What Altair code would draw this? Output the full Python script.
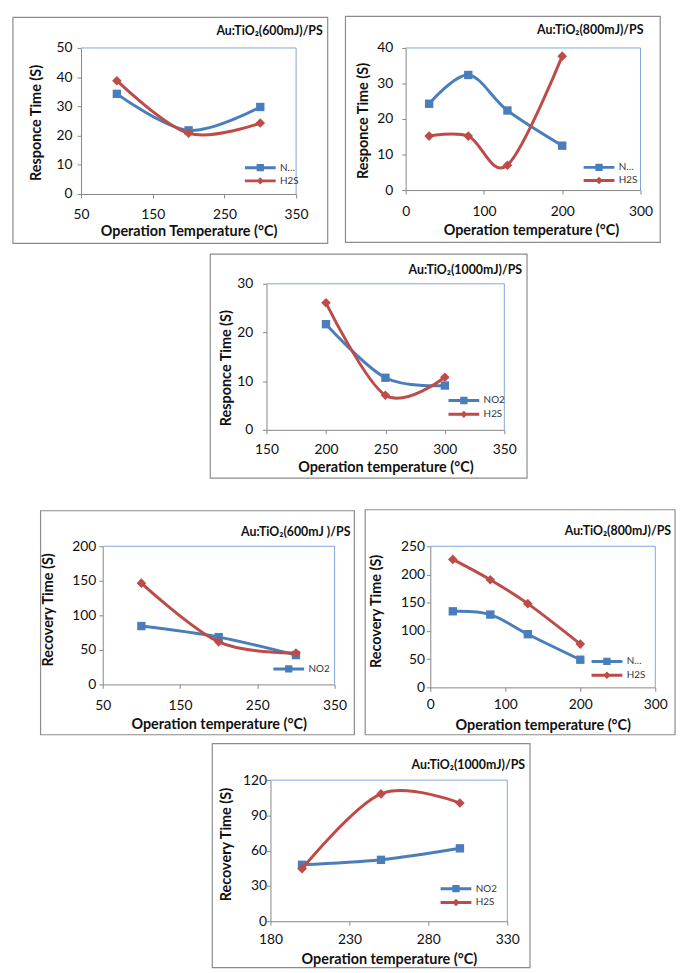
import altair as alt
import pandas as pd

# ---------------- data ----------------
series_names = ["NO2", "H2S"]
series_colors = ["#4A7EBB", "#BE4B48"]
series_shapes = ["square", "diamond"]
series_sizes = [72, 95]

temps_600 = [100, 200, 300]
temps_800 = [30, 80, 130, 200]
temps_1000 = [200, 250, 300]

resp_600_no2 = [34.3, 21.8, 29.8]
resp_600_h2s = [38.8, 20.8, 24.3]
resp_800_no2 = [24.3, 32.4, 22.4, 12.5]
resp_800_h2s = [15.2, 15.2, 7.0, 37.7]
resp_1000_no2 = [21.7, 10.7, 9.1]
resp_1000_h2s = [26.1, 7.1, 10.8]

rec_600_no2 = [84.5, 68.5, 42.5]
rec_600_h2s = [146.6, 61.6, 45.5]
rec_800_no2 = [134.8, 129.0, 94.2, 49.0]
rec_800_h2s = [226.7, 190.6, 148.3, 76.7]
rec_1000_no2 = [48.0, 52.2, 62.0]
rec_1000_h2s = [44.6, 108.3, 100.5]

# legend symbols: line with marker (custom paths)
legend_paths = {
    "NO2": "M-2.6,-0.25H2.6V0.25H-2.6Z M-0.62,-0.62H0.62V0.62H-0.62Z",
    "H2S": "M-2.6,-0.25H2.6V0.25H-2.6Z M0,-0.62L0.62,0L0,0.62L-0.62,0Z",
}
color_of = dict(zip(series_names, series_colors))

BOX = "#8C8C8C"
PLOT_BORDER = "#7FA6D8"
ONE = pd.DataFrame({"k": [0]})


def make_panel(temps, no2, h2s, p):
    n = len(temps)
    df = pd.DataFrame({
        "temp": temps * 2,
        "value": no2 + h2s,
        "gas": ["NO2"] * n + ["H2S"] * n,
    })
    W, H = p["W"], p["H"]
    X = alt.X("temp:Q",
              scale=alt.Scale(domain=p["xdom"], nice=False, zero=False),
              axis=alt.Axis(values=p["xticks"], title=p["xtitle"], labelFlush=False,
                            titleX=W / 2 + p.get("xtdx", 0), titleY=p["xty"],
                            titleBaseline="middle", titleAlign="center",
                            labelPadding=p.get("xlp", 10)))
    Y = alt.Y("value:Q",
              scale=alt.Scale(domain=p["ydom"], nice=False, zero=False),
              axis=alt.Axis(values=p["yticks"], title=p["ytitle"], labelFlush=False,
                            titleX=p["ytx"], titleY=H / 2 + p["ytdy"], titleAngle=270,
                            titleBaseline="middle", titleAlign="center",
                            labelPadding=p["ylp"]))
    layers = []
    # outer box
    layers.append(alt.Chart(ONE).mark_rect(fillOpacity=0, stroke=BOX, strokeWidth=1.2).encode(
        x=alt.value(-p["L"]), x2=alt.value(W + p["R"]),
        y=alt.value(-p["T"]), y2=alt.value(H + p["B"])))
    # plot-area border (top and right)
    layers.append(alt.Chart(ONE).mark_rule(color=PLOT_BORDER, strokeWidth=1).encode(
        x=alt.value(0), x2=alt.value(W), y=alt.value(0)))
    layers.append(alt.Chart(ONE).mark_rule(color=PLOT_BORDER, strokeWidth=1).encode(
        x=alt.value(W), y=alt.value(0), y2=alt.value(H)))
    for g, c, shp, sz in zip(series_names, series_colors, series_shapes, series_sizes):
        base = alt.Chart(df).transform_filter(alt.datum.gas == g)
        layers.append(base.mark_line(interpolate="cardinal", color=c, strokeWidth=3).encode(x=X, y=Y))
        layers.append(base.mark_point(filled=True, opacity=1, shape=shp, size=sz, color=c,
                                      strokeWidth=0).encode(x=X, y=Y))
    # legend
    dom = p["legend"]
    lkw = dict(orient="none", legendX=p["lx"], legendY=p["ly"], title=None,
               labelFont="Lato", labelFontSize=10, labelColor="#333333",
               symbolSize=144, symbolStrokeWidth=0, labelOffset=14,
               rowPadding=p.get("lrp", 2.5), padding=0)
    if p.get("trunc"):
        lkw["labelExpr"] = "datum.label == 'NO2' ? 'N…' : datum.label"
    leg = alt.Legend(**lkw)
    layers.append(alt.Chart(pd.DataFrame({"gas": dom})).transform_filter("false")
                  .mark_point(filled=True, opacity=1).encode(
        color=alt.Color("gas:N", scale=alt.Scale(domain=dom, range=[color_of[d] for d in dom]), legend=leg),
        shape=alt.Shape("gas:N", scale=alt.Scale(domain=dom, range=[legend_paths[d] for d in dom]), legend=leg)))
    # panel title
    layers.append(alt.Chart(ONE).mark_text(text=p["title"], align="right", baseline="middle",
                                           font="Lato", fontWeight="bold", fontSize=12.5,
                                           color="#111111").encode(
        x=alt.value(W + p["tdx"]), y=alt.value(p["ty"])))
    return alt.layer(*layers).properties(width=W, height=H)


def spacer(w):
    return alt.Chart(ONE).mark_rect(opacity=0).encode(
        x=alt.value(0), x2=alt.value(w), y=alt.value(0), y2=alt.value(1)
    ).properties(width=w, height=1)


def indep(c):
    return c.resolve_scale(color="independent", shape="independent").resolve_legend(
        color="independent", shape="independent")


XT_A = "Operation Temperature (°C)"
XT = "Operation temperature (°C)"
YT_R = "Responce Time (S)"
YT_C = "Recovery Time (S)"

p1 = make_panel(temps_600, resp_600_no2, resp_600_h2s, dict(
    W=218, H=148, L=69, R=32, T=31, B=50,
    xdom=[50, 350], xticks=[50, 150, 250, 350], xtitle=XT_A, xty=38.5, xlp=10,
    ydom=[0, 50], yticks=[0, 10, 20, 30, 40, 50], ytitle=YT_R, ytx=-45, ytdy=1.5, ylp=5,
    title="Au:TiO₂(600mJ)/PS", tdx=27, ty=-17,
    legend=series_names, lx=175.7, ly=115.3, lrp=2.4, trunc=True))

p2 = make_panel(temps_800, resp_800_no2, resp_800_h2s, dict(
    W=238, H=144, L=61, R=20, T=32, B=53,
    xdom=[0, 300], xticks=[0, 100, 200, 300], xtitle=XT, xty=41.5, xtdx=8, xlp=11,
    ydom=[0, 40], yticks=[0, 10, 20, 30, 40], ytitle=YT_R, ytx=-43, ytdy=1.5, ylp=9,
    title="Au:TiO₂(800mJ)/PS", tdx=3, ty=-18,
    legend=series_names, lx=190, ly=115, lrp=2.3, trunc=True))

p3 = make_panel(temps_1000, resp_1000_no2, resp_1000_h2s, dict(
    W=241, H=148, L=57, R=23, T=30, B=49,
    xdom=[150, 350], xticks=[150, 200, 250, 300, 350], xtitle=XT, xty=38.5, xlp=9,
    ydom=[0, 30], yticks=[0, 10, 20, 30], ytitle=YT_R, ytx=-41, ytdy=11, ylp=10,
    title="Au:TiO₂(1000mJ)/PS", tdx=18, ty=-13.5,
    legend=series_names, lx=194, ly=112.3, lrp=3))

p4 = make_panel(temps_600, rec_600_no2, rec_600_h2s, dict(
    W=235, H=140, L=63, R=20, T=36, B=51,
    xdom=[50, 350], xticks=[50, 150, 250, 350], xtitle=XT, xty=41, xlp=10,
    ydom=[0, 200], yticks=[0, 50, 100, 150, 200], ytitle=YT_C, ytx=-55, ytdy=-6, ylp=3,
    title="Au:TiO₂(600mJ )/PS", tdx=16, ty=-14,
    legend=["NO2"], lx=182.5, ly=118.3))

p5 = make_panel(temps_800, rec_800_no2, rec_800_h2s, dict(
    W=228, H=143, L=66, R=20, T=37, B=48,
    xdom=[0, 300], xticks=[0, 100, 200, 300], xtitle=XT, xty=38.5, xlp=6,
    ydom=[0, 250], yticks=[0, 50, 100, 150, 200, 250], ytitle=YT_C, ytx=-54, ytdy=-6, ylp=2,
    title="Au:TiO₂(800mJ)/PS", tdx=16, ty=-15,
    legend=series_names, lx=173, ly=110.7, lrp=3, trunc=True))

p6 = make_panel(temps_1000, rec_1000_no2, rec_1000_h2s, dict(
    W=240, H=143, L=59, R=23, T=37, B=47,
    xdom=[180, 330], xticks=[180, 230, 280, 330], xtitle=XT, xty=39, xlp=8,
    ydom=[0, 120], yticks=[0, 30, 60, 90, 120], ytitle=YT_C, ytx=-45, ytdy=-6.7, ylp=0,
    title="Au:TiO₂(1000mJ)/PS", tdx=18, ty=-15,
    legend=series_names, lx=182, ly=104, lrp=3))

# every row starts with a spacer so that all rows share the same left origin
row1 = indep(alt.hconcat(spacer(1), indep(alt.hconcat(p1, p2, spacing=14)), spacing=0))
row2 = indep(alt.hconcat(spacer(201), p3, spacing=0))
row3 = indep(alt.hconcat(spacer(29), indep(alt.hconcat(p4, p5, spacing=7)), spacing=0))
row4 = indep(alt.hconcat(spacer(203), p6, spacing=0))
top_half = indep(alt.vconcat(row1, row2, spacing=7))
bottom_half = indep(alt.vconcat(row3, row4, spacing=5))

chart = indep(alt.vconcat(top_half, bottom_half, spacing=28)).properties(padding=0).configure_view(
    stroke="transparent"
).configure_axis(
    grid=False, domainColor="#868686", tickColor="#868686", tickSize=4,
    labelFont="Lato", labelFontSize=14, labelColor="#111111",
    titleFont="Lato", titleFontSize=14.6, titleFontWeight="bold", titleColor="#111111",
)

chart.save("out.html", embed_options={"renderer": "svg", "actions": False})
